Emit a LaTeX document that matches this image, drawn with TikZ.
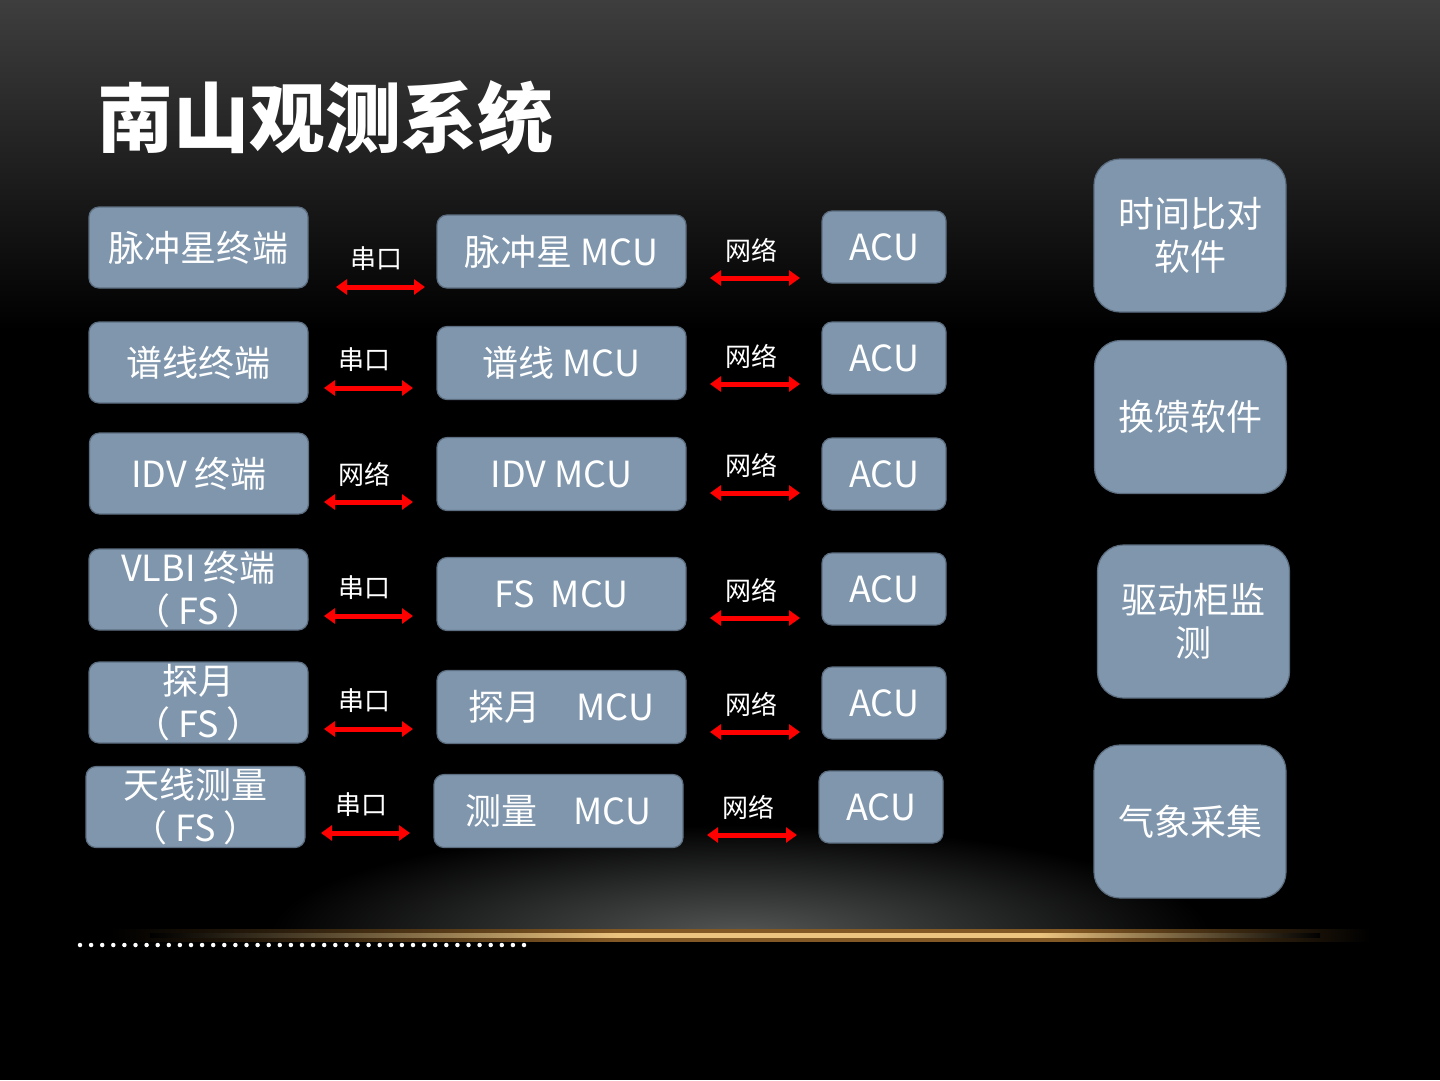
\documentclass[tikz,border=0pt]{standalone}
\usepackage{fontspec}
\setmainfont{Noto Sans CJK SC}
\usepackage{xcolor}
\usetikzlibrary{arrows.meta, shapes.geometric}

\definecolor{boxfill}{RGB}{127,150,173}
\definecolor{boxline}{RGB}{92,110,128}
\definecolor{bgtop}{RGB}{62,62,62}
\definecolor{glow}{RGB}{84,86,86}
\definecolor{gold}{RGB}{236,196,128}
\definecolor{amber}{RGB}{130,88,36}

\pgfdeclarehorizontalshading{horizoncore}{100bp}{color(0bp)=(black); color(25bp)=(black);
  color(45bp)=(gold); color(63bp)=(gold); color(75bp)=(black); color(100bp)=(black)}
\pgfdeclarehorizontalshading{horizonglow}{100bp}{color(0bp)=(black); color(25bp)=(black);
  color(45bp)=(amber); color(63bp)=(amber); color(75bp)=(black); color(100bp)=(black)}

\tikzset{
  term/.style={rectangle, draw=boxline, fill=boxfill, rounded corners=10pt,
               minimum width=219pt, minimum height=81pt, inner sep=0pt,
               align=center, text=white, line width=1.2pt,
               font=\fontsize{36}{43}\selectfont},
  mcu/.style={term, minimum width=249pt, minimum height=73pt},
  acu/.style={term, minimum width=124pt, minimum height=72pt},
  tool/.style={term, rounded corners=26pt, minimum width=192pt,
               minimum height=153pt},
  link/.style={{Triangle[length=11pt,width=15pt]}-{Triangle[length=11pt,width=15pt]},
               draw=red, line width=5pt},
  lbl/.style={midway, font=\fontsize{26}{30}\selectfont, text=white,
              yshift=28pt, xshift=-4pt},
}

\begin{document}
\begin{tikzpicture}[x=1pt, y=-1pt]
  % Background
  \useasboundingbox (0,0) rectangle (1440,1080);
  \fill[black] (0,0) rectangle (1440,1080);
  \shade[top color=bgtop, bottom color=black] (0,0) rectangle (1440,330);
  \begin{scope}
    \clip (0,760) rectangle (1440,935);
    \shade[inner color=glow, outer color=black] (740,935) ellipse [x radius=470, y radius=110];
  \end{scope}
  % Horizon line
  \shade[shading=horizonglow] (110,929) rectangle (1370,941);
  \shade[shading=horizoncore] (150,933) rectangle (1320,937);
  \draw[white, line width=4.5pt, line cap=round, dash pattern=on 0pt off 11.1pt]
    (80,945) -- (527,945);

  % Title
  \node[text=white, font=\fontsize{76}{80}\selectfont\bfseries] (title) at (325,118) {南山观测系统};

  % Nodes
  \node[term] (term1) at (198.5,247.5) {脉冲星终端};
  \node[term] (term2) at (198.5,362.5) {谱线终端};
  \node[term] (term3) at (199,473.5) {IDV 终端};
  \node[term] (term4) at (198.5,589.5) {VLBI 终端\\（ FS ）};
  \node[term] (term5) at (198.5,702.5) {探月\\（ FS ）};
  \node[term] (term6) at (195.5,807) {天线测量\\（ FS ）};

  \node[mcu] (mcu1) at (561.5,251.5) {脉冲星 MCU};
  \node[mcu] (mcu2) at (561.5,363) {谱线 MCU};
  \node[mcu] (mcu3) at (561.5,474) {IDV MCU};
  \node[mcu] (mcu4) at (561.5,594) {FS\ \ MCU};
  \node[mcu] (mcu5) at (561.5,707) {探月\quad MCU};
  \node[mcu] (mcu6) at (558.5,811) {测量\quad MCU};

  \node[acu] (acu1) at (884,247) {ACU};
  \node[acu] (acu2) at (884,358) {ACU};
  \node[acu] (acu3) at (884,474) {ACU};
  \node[acu] (acu4) at (884,589) {ACU};
  \node[acu] (acu5) at (884,703) {ACU};
  \node[acu] (acu6) at (881,807) {ACU};

  \node[tool] (timecmp) at (1190,235.5) {时间比对\\软件};
  \node[tool] (feed) at (1190.5,417) {换馈软件};
  \node[tool] (drive) at (1193.5,621.5) {驱动柜监\\测};
  \node[tool] (weather) at (1190,821.5) {气象采集};

  % Link ends
  \coordinate (s1) at (336,287); \coordinate (e1) at (425,287);
  \coordinate (s2) at (324,388); \coordinate (e2) at (413,388);
  \coordinate (s3) at (324,502); \coordinate (e3) at (413,502);
  \coordinate (s4) at (324,616); \coordinate (e4) at (413,616);
  \coordinate (s5) at (324,729); \coordinate (e5) at (413,729);
  \coordinate (s6) at (321,833); \coordinate (e6) at (410,833);

  \coordinate (n1) at (710,278); \coordinate (m1) at (800,278);
  \coordinate (n2) at (710,384); \coordinate (m2) at (800,384);
  \coordinate (n3) at (710,493); \coordinate (m3) at (800,493);
  \coordinate (n4) at (710,618); \coordinate (m4) at (800,618);
  \coordinate (n5) at (710,732); \coordinate (m5) at (800,732);
  \coordinate (n6) at (707,835); \coordinate (m6) at (797,835);

  % Edges
  \draw[link] (s1) -- node[lbl] {串口} (e1);
  \draw[link] (s2) -- node[lbl] {串口} (e2);
  \draw[link] (s3) -- node[lbl] {网络} (e3);
  \draw[link] (s4) -- node[lbl] {串口} (e4);
  \draw[link] (s5) -- node[lbl] {串口} (e5);
  \draw[link] (s6) -- node[lbl] {串口} (e6);

  \draw[link] (n1) -- node[lbl] {网络} (m1);
  \draw[link] (n2) -- node[lbl] {网络} (m2);
  \draw[link] (n3) -- node[lbl] {网络} (m3);
  \draw[link] (n4) -- node[lbl] {网络} (m4);
  \draw[link] (n5) -- node[lbl] {网络} (m5);
  \draw[link] (n6) -- node[lbl] {网络} (m6);

\end{tikzpicture}
\end{document}
